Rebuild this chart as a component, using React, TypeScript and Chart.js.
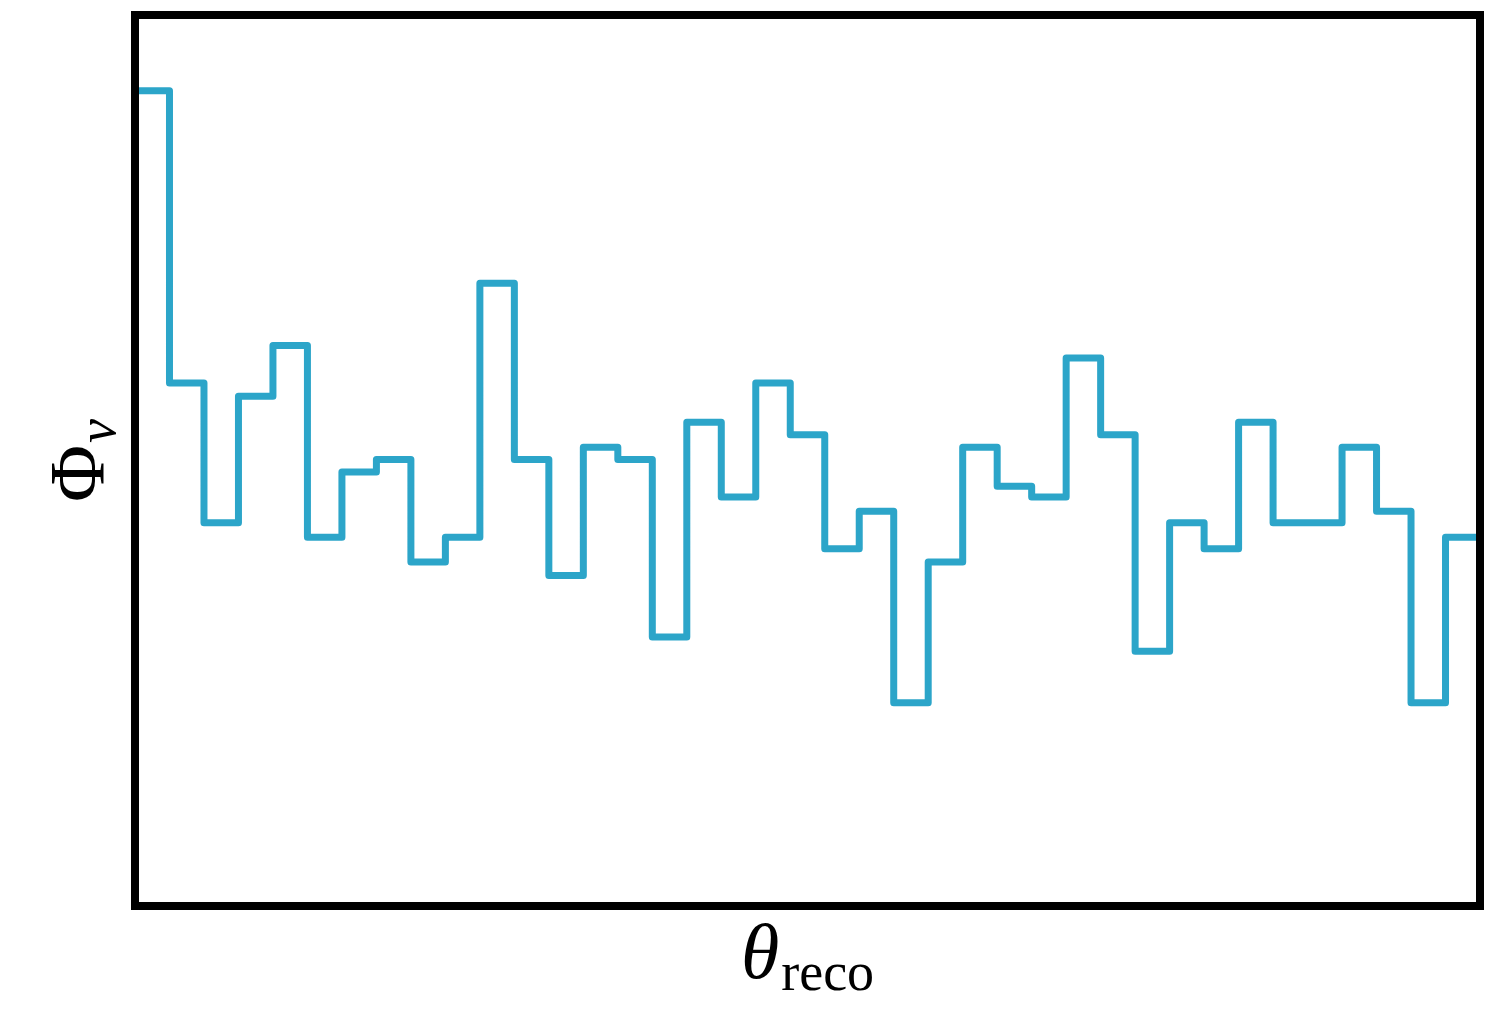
import React, { useEffect, useRef } from "react";
import { Chart, registerables } from "chart.js";

Chart.register(...registerables);

// 39 equal-width bins along theta_reco; flux heights (arbitrary units, 0..100 axis)
const binValues: number[] = [
  91.5, 58.7, 43.0, 57.2, 62.9, 41.4, 48.7, 50.1, 38.6, 41.4,
  69.9, 50.1, 37.1, 51.5, 50.1, 30.2, 54.3, 45.9, 58.7, 52.9,
  40.1, 44.3, 22.8, 38.6, 51.5, 47.1, 45.9, 61.5, 52.9, 28.6,
  43.0, 40.1, 54.3, 43.0, 43.0, 51.5, 44.3, 22.8, 41.4,
];
const yRange: number[] = [0, 100];
const xLabelMain = "θ";
const xLabelSub = "reco";
const yLabelMain = "Φ";
const yLabelSub = "ν";

const LINE_COLOR = "#2ca5c9";
const FONT = "'Liberation Serif', 'DejaVu Serif', serif";

const framePlugin = {
  id: "frameAndLabels",
  afterDraw(chart: any) {
    const { ctx, chartArea } = chart;
    const { left, right, top, bottom } = chartArea;
    ctx.save();
    // frame
    ctx.strokeStyle = "#000";
    ctx.lineWidth = 8;
    ctx.lineJoin = "miter";
    ctx.strokeRect(left, top, right - left, bottom - top);

    // x label
    ctx.fillStyle = "#000";
    ctx.textBaseline = "alphabetic";
    ctx.textAlign = "left";
    const mainFont = `italic 78px ${FONT}`;
    const subFont = `54px ${FONT}`;
    ctx.font = mainFont;
    const wMain = ctx.measureText(xLabelMain).width;
    ctx.font = subFont;
    const wSub = ctx.measureText(xLabelSub).width;
    const total = wMain + 2 + wSub;
    const cx = (left + right) / 2;
    const x0 = cx - total / 2;
    const baseY = bottom + 72;
    ctx.font = mainFont;
    ctx.fillText(xLabelMain, x0, baseY);
    ctx.font = subFont;
    ctx.fillText(xLabelSub, x0 + wMain + 2, baseY + 12);

    // y label (rotated)
    ctx.save();
    ctx.translate(103, (top + bottom) / 2);
    ctx.rotate(-Math.PI / 2);
    ctx.font = `78px ${FONT}`;
    const wPhi = ctx.measureText(yLabelMain).width;
    ctx.font = `italic 54px ${FONT}`;
    const wNu = ctx.measureText(yLabelSub).width;
    const tot2 = wPhi + 2 + wNu;
    const sx = -tot2 / 2;
    ctx.font = `78px ${FONT}`;
    ctx.fillText(yLabelMain, sx, 0);
    ctx.font = `italic 54px ${FONT}`;
    ctx.fillText(yLabelSub, sx + wPhi + 2, 12);
    ctx.restore();

    ctx.restore();
  },
};

export default function App() {
  const canvasRef = useRef<HTMLCanvasElement | null>(null);

  useEffect(() => {
    const canvas = canvasRef.current;
    if (!canvas) return;
    const pts = binValues.map((v, i) => ({ x: i, y: v }));
    pts.push({ x: binValues.length, y: binValues[binValues.length - 1] });

    const chart = new Chart(canvas, {
      type: "line",
      data: {
        datasets: [
          {
            data: pts,
            stepped: "before",
            borderColor: LINE_COLOR,
            borderWidth: 7,
            pointRadius: 0,
            fill: false,
            borderJoinStyle: "round",
            borderCapStyle: "butt",
          } as any,
        ],
      },
      options: {
        responsive: false,
        animation: false,
        events: [],
        layout: { padding: { left: 135, right: 32, top: 15, bottom: 105 } },
        plugins: {
          legend: { display: false },
          tooltip: { enabled: false },
        },
        scales: {
          x: { type: "linear", min: 0, max: binValues.length, display: false },
          y: { type: "linear", min: yRange[0], max: yRange[1], display: false },
        },
      },
      plugins: [framePlugin],
    });
    return () => chart.destroy();
  }, []);

  return (
    <div style={{ position: "fixed", left: 0, top: 0, width: 1512, height: 1011, background: "#fff" }}>
      <canvas ref={canvasRef} width={1512} height={1011} style={{ width: 1512, height: 1011, display: "block" }} />
    </div>
  );
}
